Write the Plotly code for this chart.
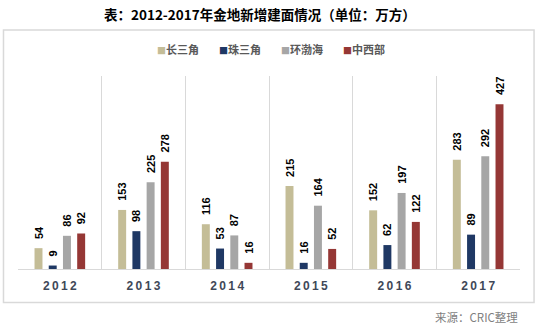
import plotly.graph_objects as go

years = ["2012", "2013", "2014", "2015", "2016", "2017"]
regions = ["长三角", "珠三角", "环渤海", "中西部"]
yangtze = [54, 153, 116, 215, 152, 283]
pearl = [9, 98, 53, 16, 62, 89]
bohai = [86, 225, 87, 164, 197, 292]
midwest = [92, 278, 16, 52, 122, 427]
colors = ["#C4BD97", "#1F3864", "#A6A6A6", "#953735"]

series = [yangtze, pearl, bohai, midwest]
cjk = "Noto Sans CJK SC"
clear = "rgba(0,0,0,0)"

fig = go.Figure()
for name, vals, col in zip(regions, series, colors):
    fig.add_trace(go.Bar(
        x=years, y=vals, name=name, marker=dict(color=col, line=dict(width=0)),
        text=[str(v) for v in vals], texttemplate="  %{text}",
        textposition="outside", textangle=-90, constraintext="none",
        cliponaxis=False,
        textfont=dict(family="Liberation Sans", size=11, color="#000000", weight="bold"),
        showlegend=False,
    ))
    # legend entry: swatch drawn as a coloured square glyph right before the label
    fig.add_trace(go.Scatter(
        x=[None], y=[None], mode="markers",
        name=f'<span style="color:{col};font-size:9px">■</span>{name}',
        marker=dict(symbol="square", size=1, color=clear),
    ))
# blank trailing entry so the last label is not clipped by the legend box
fig.add_trace(go.Scatter(x=[None], y=[None], mode="markers", name=" ",
                         marker=dict(size=1, color=clear)))

fig.update_layout(
    width=538, height=326,
    margin=dict(l=18, r=18, t=76, b=57),
    paper_bgcolor="#FFFFFF", plot_bgcolor="#FFFFFF",
    barmode="group", bargap=0.32, bargroupgap=0.44,
    title=dict(
        text="表：2012-2017年金地新增建面情况（单位：万方）",
        font=dict(family=cjk, size=13.5, color="#000000", weight="bold"),
        x=0.483, xref="container", xanchor="center",
        y=0.954, yref="container", yanchor="middle",
    ),
    legend=dict(
        orientation="h", x=0.227, xanchor="left", y=1.134, yanchor="middle",
        font=dict(family=cjk, size=11, color="#595959", weight="bold"),
        indentation=-15, itemwidth=30, traceorder="normal",
        entrywidth=32, entrywidthmode="pixels",
        bgcolor=clear, itemclick=False, itemdoubleclick=False,
    ),
    xaxis=dict(
        type="category", tickson="boundaries", showgrid=True,
        gridcolor="#D9D9D9", gridwidth=1, ticks="", ticklen=0,
        showline=True, linecolor="#D9D9D9", linewidth=1,
        tickvals=years, ticktext=["\u2009".join(y) for y in years],
        tickfont=dict(family="Liberation Sans", size=12, color="#404858", weight="bold"),
        ticklabelstandoff=6,
        fixedrange=True,
    ),
    yaxis=dict(range=[0, 500], visible=False, showgrid=False, zeroline=False),
    shapes=[dict(
        type="rect", xref="paper", yref="paper",
        x0=-0.0289, x1=1.028, y0=-0.174, y1=1.238,
        line=dict(color="#D9D9D9", width=1.5), fillcolor=clear, layer="below",
    )],
    annotations=[dict(
        text="来源：CRIC整理", xref="paper", yref="paper", x=1.0, y=-0.247,
        xanchor="right", yanchor="middle", showarrow=False,
        font=dict(family=cjk, size=11.5, color="#7F7F7F"),
    )],
)

fig.write_html("out.html")
